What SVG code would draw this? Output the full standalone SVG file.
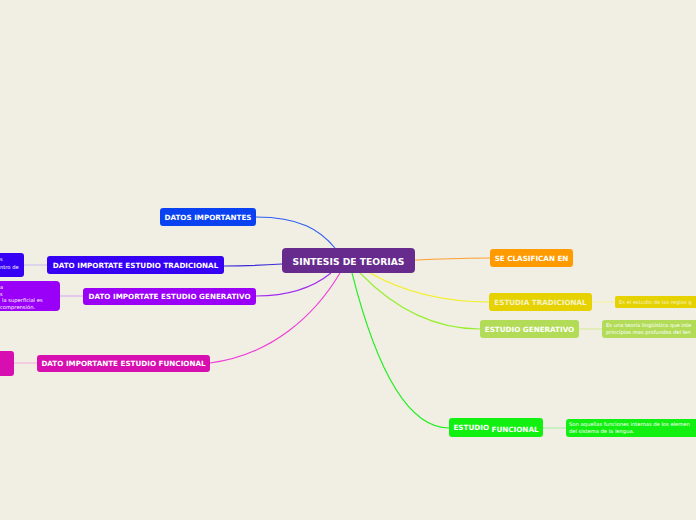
<svg xmlns="http://www.w3.org/2000/svg" width="696" height="520" viewBox="0 0 696 520">
<style>
.t{font-family:"DejaVu Sans",Verdana,sans-serif;font-weight:bold;fill:#fff;text-anchor:middle;dominant-baseline:central}
.s{font-size:7.2px}
.d{font-family:"DejaVu Sans",Verdana,sans-serif;font-size:5.2px;fill:#fff}
.c{fill:none;stroke-width:1.1}
</style>
<rect width="696" height="520" fill="#f1efe3"/>
<g id="connectors">
<path class="c" stroke="#2f5cf5" d="M256,217 C300,217 320,230 335,248"/>
<path class="c" stroke="#3a2ad8" d="M224,266 C250,266 266,265 282,264"/>
<path class="c" stroke="#a02af0" d="M256,296 C290,296 315,286 331,273"/>
<path class="c" stroke="#f03ad8" d="M210,363 C272,355 315,315 340,273"/>
<path class="c" stroke="#22ee22" d="M352,273 C372,352 402,428 449,428"/>
<path class="c" stroke="#99ee33" d="M360,273 C392,306 432,329 480,329"/>
<path class="c" stroke="#f2f020" d="M370,273 C402,291 442,302 489,302"/>
<path class="c" stroke="#ffa030" d="M415,260 C440,259 462,258 490,258"/>
<path class="c" stroke="#c8c0f0" d="M24,265 H47"/>
<path class="c" stroke="#d8a8f8" d="M60,296 H83"/>
<path class="c" stroke="#f4b0e0" d="M14,363 H37"/>
<path class="c" stroke="#f4f0a0" d="M592,302 H615"/>
<path class="c" stroke="#d4ec9c" d="M579,329 H602"/>
<path class="c" stroke="#a8f0a8" d="M543,428 H566"/>
</g>
<g id="center">
<rect x="282" y="248" width="133" height="25" rx="4" fill="#672b8e"/>
<text class="t" x="348.5" y="261" font-size="9.2">SINTESIS DE TEORIAS</text>
</g>
<g id="datos-importantes">
<rect x="160" y="208" width="96" height="18" rx="3" fill="#0a42f2"/>
<text class="t s" x="208" y="217">DATOS IMPORTANTES</text>
</g>
<g id="dato-tradicional">
<rect x="47" y="256" width="177" height="18" rx="3" fill="#3600f5"/>
<text class="t s" x="135.5" y="265">DATO IMPORTATE ESTUDIO TRADICIONAL</text>
</g>
<g id="detalle-tradicional">
<rect x="-6" y="253" width="30" height="24" rx="3" fill="#3600f5"/>
<text class="d" x="0" y="261">s</text>
<text class="d" x="0" y="269">ntro de</text>
</g>
<g id="dato-generativo">
<rect x="83" y="288" width="173" height="17" rx="3" fill="#9a00f7"/>
<text class="t s" x="169.5" y="296.5">DATO IMPORTATE ESTUDIO GENERATIVO</text>
</g>
<g id="detalle-generativo">
<rect x="-6" y="281" width="66" height="30" rx="4" fill="#9a00f7"/>
<text class="d" x="0" y="289">a</text>
<text class="d" x="0" y="295.5">s</text>
<text class="d" x="2" y="302">la superficial es</text>
<text class="d" x="0" y="308.5">comprensión.</text>
</g>
<g id="dato-funcional">
<rect x="37" y="355" width="173" height="17" rx="3" fill="#d80fb0"/>
<text class="t s" x="123.5" y="363.5">DATO IMPORTANTE ESTUDIO FUNCIONAL</text>
</g>
<g id="detalle-funcional-izq">
<rect x="-6" y="351" width="20" height="25" rx="3" fill="#d80fb0"/>
</g>
<g id="se-clasifican">
<rect x="490" y="249" width="83" height="18" rx="3" fill="#ff9a00"/>
<text class="t s" x="531.5" y="258">SE CLASIFICAN EN</text>
</g>
<g id="estudia-tradicional">
<rect x="489" y="293" width="103" height="18" rx="3" fill="#e5d200"/>
<text class="t s" x="540.5" y="302" style="fill:#f6f2c4">ESTUDIA TRADICIONAL</text>
</g>
<g id="detalle-estudia-tradicional">
<rect x="615" y="296" width="90" height="12" rx="2" fill="#e5d200"/>
<text class="d" x="619" y="304" style="fill:#f6f2c4">Es el estudio de las reglas g</text>
</g>
<g id="estudio-generativo">
<rect x="480" y="320" width="99" height="18" rx="3" fill="#b2dc58"/>
<text class="t s" x="529.5" y="329">ESTUDIO GENERATIVO</text>
</g>
<g id="detalle-estudio-generativo">
<rect x="602" y="320" width="104" height="18" rx="3" fill="#b2dc58"/>
<text class="d" x="606" y="327">Es una teoría lingüística que inte</text>
<text class="d" x="606" y="334">principios mas profundos del len</text>
</g>
<g id="estudio-funcional">
<rect x="449" y="418" width="94" height="19" rx="3" fill="#11f011"/>
<text class="t s" x="496" y="428"><tspan dy="-1">ESTUDIO </tspan><tspan dy="1.5">FUNCIONAL</tspan></text>
</g>
<g id="detalle-estudio-funcional">
<rect x="566" y="419" width="140" height="18" rx="3" fill="#11f011"/>
<text class="d" x="569" y="426">Son aquellas funciones internas de los elemen</text>
<text class="d" x="569" y="433">del sistema de la lengua.</text>
</g>
</svg>
